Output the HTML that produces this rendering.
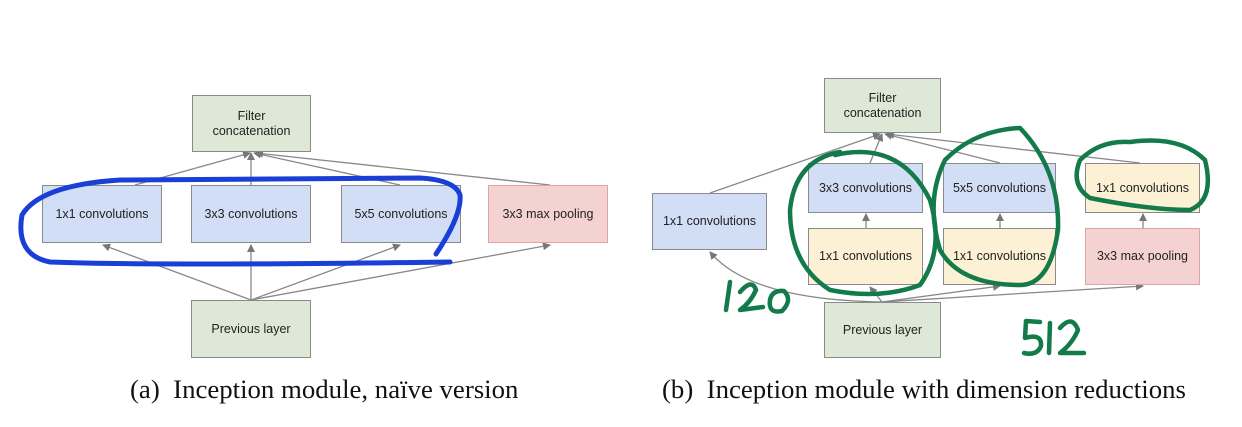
<!DOCTYPE html><html><head><meta charset="utf-8"><style>
body{margin:0;background:#fff;width:1242px;height:427px;overflow:hidden;position:relative;font-family:"Liberation Sans",sans-serif}
.b{position:absolute;box-sizing:border-box;border:1.5px solid #8a8a8a;display:flex;align-items:center;justify-content:center;text-align:center;font-size:12.5px;color:#222;line-height:15px}
.g{background:#dde9d6}.bl{background:#d2def6}.r{background:#f5d2d2;border-color:#e2a3a3}.y{background:#fcf1d4}
.c{position:absolute;top:374px;font-family:"Liberation Serif",serif;font-size:26.8px;color:#111;white-space:nowrap}
</style></head><body>
<svg width="1242" height="427" style="position:absolute;left:0;top:0">
<defs><marker id="a" markerWidth="8" markerHeight="8" refX="7" refY="4" orient="auto" markerUnits="userSpaceOnUse"><path d="M0,0 L8,4 L0,8z" fill="#777"/></marker></defs>
<g stroke="#888" stroke-width="1.3" fill="none" marker-end="url(#a)">
<line x1="135" y1="185" x2="250" y2="153"/><line x1="251" y1="185" x2="251" y2="153"/><line x1="400" y1="185" x2="254" y2="153"/><line x1="550" y1="185" x2="256" y2="153"/>
<line x1="251" y1="300" x2="103" y2="245"/><line x1="251" y1="300" x2="251" y2="245"/><line x1="251" y1="300" x2="400" y2="245"/><line x1="251" y1="300" x2="550" y2="245"/>
<line x1="710" y1="193" x2="880" y2="134"/><line x1="870" y1="163" x2="882" y2="134"/><line x1="1000" y1="163" x2="885" y2="134"/><line x1="1140" y1="163" x2="887" y2="134"/>
<line x1="866" y1="228" x2="866" y2="214"/><line x1="1000" y1="228" x2="1000" y2="214"/><line x1="1143" y1="228" x2="1143" y2="214"/>
<path d="M882,302 Q750,300 710,252"/><line x1="882" y1="302" x2="870" y2="287"/><line x1="882" y1="302" x2="1000" y2="286"/><line x1="882" y1="302" x2="1143" y2="286"/>
</g>
</svg>
<div class="b g" style="left:192px;top:95px;width:119px;height:57px">Filter<br>concatenation</div>
<div class="b bl" style="left:42px;top:185px;width:120px;height:58px">1x1 convolutions</div>
<div class="b bl" style="left:191px;top:185px;width:120px;height:58px">3x3 convolutions</div>
<div class="b bl" style="left:341px;top:185px;width:120px;height:58px">5x5 convolutions</div>
<div class="b r" style="left:488px;top:185px;width:120px;height:58px">3x3 max pooling</div>
<div class="b g" style="left:191px;top:300px;width:120px;height:58px">Previous layer</div>
<div class="b g" style="left:824px;top:78px;width:117px;height:55px">Filter<br>concatenation</div>
<div class="b bl" style="left:652px;top:193px;width:115px;height:57px">1x1 convolutions</div>
<div class="b bl" style="left:808px;top:163px;width:115px;height:50px">3x3 convolutions</div>
<div class="b bl" style="left:943px;top:163px;width:113px;height:50px">5x5 convolutions</div>
<div class="b y" style="left:1085px;top:163px;width:115px;height:50px">1x1 convolutions</div>
<div class="b y" style="left:808px;top:228px;width:115px;height:57px">1x1 convolutions</div>
<div class="b y" style="left:943px;top:228px;width:113px;height:57px">1x1 convolutions</div>
<div class="b r" style="left:1085px;top:228px;width:115px;height:57px">3x3 max pooling</div>
<div class="b g" style="left:824px;top:302px;width:117px;height:56px">Previous layer</div>
<svg width="1242" height="427" style="position:absolute;left:0;top:0">
<g fill="none" stroke-linecap="round" stroke-linejoin="round">
<path d="M436,254 Q462,215 460,195 Q455,180 420,178 L120,180 Q40,185 22,215 Q15,255 50,262 Q150,266 450,262" stroke="#1a3fd6" stroke-width="5"/>
<g stroke="#137a4a" stroke-width="4.5">
<path d="M835,155 Q900,140 930,200 Q945,250 920,285 Q880,300 830,290 Q790,265 790,210 Q795,160 840,152"/>
<path d="M1020,128 Q1060,170 1058,230 Q1050,285 1020,285 Q960,285 940,250 Q925,200 945,160 Q975,130 1020,128"/>
<path d="M1130,142 Q1180,135 1205,160 Q1215,200 1190,210 Q1150,210 1090,198 Q1070,185 1080,160 Q1100,140 1130,142"/>
<path d="M730,282 L726,310"/><path d="M740,292 Q752,278 756,290 Q750,303 740,310 L763,307"/><path d="M770,300 Q768,314 782,311 Q793,300 784,291 Q772,290 770,300"/>
<path d="M1040,322 L1026,321 L1025,338 Q1042,333 1041,346 Q1037,356 1024,353"/><path d="M1050,323 L1049,353"/><path d="M1060,328 Q1072,314 1078,330 Q1072,344 1060,353 L1084,353"/>
</g></g></svg>
<div class="c" style="left:130px">(a)&nbsp; Inception module, naïve version</div>
<div class="c" style="left:662px">(b)&nbsp; Inception module with dimension reductions</div>
</body></html>
